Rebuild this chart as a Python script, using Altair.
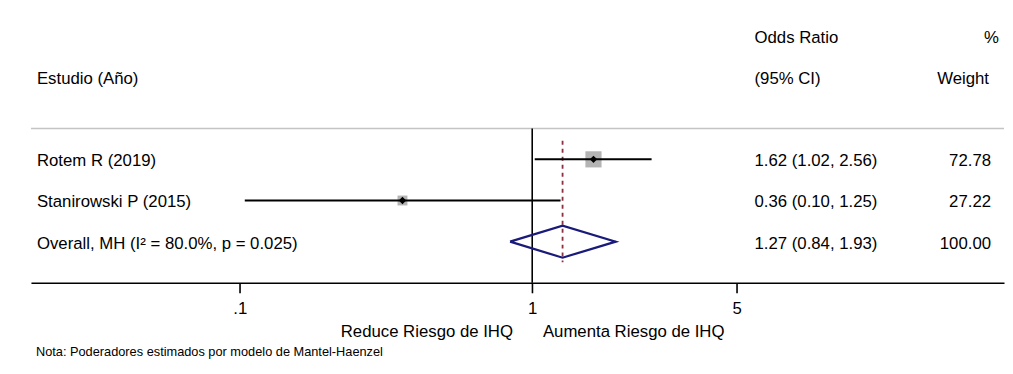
import altair as alt
import pandas as pd

# ---- data ----
studies = ["Rotem R (2019)", "Stanirowski P (2015)", "Overall, MH (I² = 80.0%, p = 0.025)"]
rows = [1, 2, 3]
or_est = [1.62, 0.36, 1.27]
ci_low = [1.02, 0.104, 0.84]
ci_high = [2.56, 1.25, 1.93]
or_text = ["1.62 (1.02, 2.56)", "0.36 (0.10, 1.25)", "1.27 (0.84, 1.93)"]
weights = [72.78, 27.22, 100.00]
weight_text = ["72.78", "27.22", "100.00"]
tick_values = [0.1, 1, 5]
tick_labels = [".1", "1", "5"]
header_left = ["Estudio (Año)"]
header_or = ["Odds Ratio", "(95% CI)"]
header_w = ["%", "Weight"]
favours = ["Reduce Riesgo de IHQ", "Aumenta Riesgo de IHQ"]
note = "Nota: Poderadores estimados por modelo de Mantel-Haenzel"

FONT = "Liberation Sans"
FS = 16.8
W, H = 975, 268

studies_df = pd.DataFrame({"study": studies, "row": rows, "est": or_est, "lo": ci_low,
                           "hi": ci_high, "ortext": or_text, "w": weights, "wtext": weight_text})
indiv = studies_df.iloc[:2]
overall = studies_df.iloc[2]

label_expr = " : ".join(
    [f"datum.value == {v} ? '{l}'" for v, l in zip(tick_values, tick_labels)] + ["''"])

xscale = alt.Scale(type="log", domain=[0.01931, 41.06], nice=False, zero=False)
xaxis = alt.Axis(values=tick_values, labelExpr=label_expr, title=None, grid=False,
                 domainColor="black", domainWidth=1.6, tickColor="black", tickWidth=1.6,
                 tickSize=10, labelFontSize=FS, labelColor="black", labelPadding=8,
                 labelFont=FONT, labelFlush=False)
yscale = alt.Scale(domain=[-2.5, 4], reverse=True, nice=False, zero=False)


def X(field):
    return alt.X(field, type="quantitative", scale=xscale, axis=xaxis)


def Y(field):
    return alt.Y(field, type="quantitative", scale=yscale, axis=None)


# separator line
sep = alt.Chart(pd.DataFrame({"row": [0.25]})).mark_rule(color="#c4c4c4", strokeWidth=1.6).encode(
    y=Y("row"), x=alt.value(0), x2=alt.value(W))

# null line at OR = 1
null_df = pd.DataFrame({"x": [1.0], "y1": [0.25], "y2": [4.0]})
null_line = alt.Chart(null_df).mark_rule(color="black", strokeWidth=1.6).encode(
    x=X("x"), y=Y("y1"), y2="y2")

# overall dashed line
dash_df = pd.DataFrame({"x": [overall["est"]], "y1": [0.55], "y2": [3.5]})
dash_line = alt.Chart(dash_df).mark_rule(color="#8e2f40", strokeWidth=1.8, strokeDash=[4, 4]).encode(
    x=X("x"), y=Y("y1"), y2="y2")

# boxes sized by weight
boxes = alt.Chart(indiv).mark_square(filled=True, color="#b4b4b4", opacity=1).encode(
    x=X("est"), y=Y("row"),
    size=alt.Size("w:Q", scale=alt.Scale(domain=[0, 100], range=[0, 360]), legend=None))

# CI lines
ci = alt.Chart(indiv).mark_rule(color="black", strokeWidth=2).encode(
    x=X("lo"), x2="hi", y=Y("row"))

# point estimates
pts = alt.Chart(indiv).mark_point(shape="diamond", filled=True, color="black", size=55, opacity=1).encode(
    x=X("est"), y=Y("row"))

# overall diamond
half = 0.39
dia_df = pd.DataFrame({
    "x": [overall["lo"], overall["est"], overall["hi"], overall["est"], overall["lo"]],
    "y": [overall["row"], overall["row"] - half, overall["row"], overall["row"] + half, overall["row"]],
    "o": [0, 1, 2, 3, 4]})
diamond = alt.Chart(dia_df).mark_line(color="#1a1a7a", strokeWidth=2.2, strokeJoin="miter").encode(
    x=X("x"), y=Y("y"), order="o:Q")

DY = 2


def txt(df, xpos, align, field="t", size=FS):
    return alt.Chart(df).mark_text(align=align, baseline="middle", font=FONT, fontSize=size,
                                   color="black", dy=DY).encode(
        x=alt.value(xpos), y=Y("row"), text=f"{field}:N")


study_lbl = txt(studies_df.rename(columns={"study": "t"}), 6, "left")
or_lbl = txt(studies_df.rename(columns={"ortext": "t"}), 725, "left")
w_lbl = txt(studies_df.rename(columns={"wtext": "t"}), 962, "right")

hl = txt(pd.DataFrame({"t": header_left, "row": [-1]}), 6, "left")
ho = txt(pd.DataFrame({"t": header_or, "row": [-2, -1]}), 725, "left")
hw1 = txt(pd.DataFrame({"t": header_w[:1], "row": [-2]}), 970, "right")
hw2 = txt(pd.DataFrame({"t": header_w[1:], "row": [-1]}), 960, "right")

fav_df = pd.DataFrame({"t": favours})
fav_left = alt.Chart(fav_df.iloc[:1]).mark_text(align="right", baseline="middle", font=FONT, fontSize=FS,
                                                color="black").encode(
    x=alt.value(483), y=alt.value(317), text="t:N")
fav_right = alt.Chart(fav_df.iloc[1:]).mark_text(align="left", baseline="middle", font=FONT, fontSize=FS,
                                                 color="black").encode(
    x=alt.value(513), y=alt.value(317), text="t:N")

note_lbl = alt.Chart(pd.DataFrame({"t": [note]})).mark_text(
    align="left", baseline="middle", font=FONT, fontSize=12.8, color="black").encode(
    x=alt.value(5), y=alt.value(337), text="t:N")

chart = alt.layer(sep, null_line, dash_line, boxes, ci, pts, diamond,
                  study_lbl, or_lbl, w_lbl, hl, ho, hw1, hw2,
                  fav_left, fav_right, note_lbl).properties(
    width=W, height=H,
    padding={"left": 22, "top": 7, "right": 0, "bottom": 0},
    background="white",
).configure_view(stroke=None)

chart.save("out.html", embed_options={"renderer": "svg", "actions": False})
